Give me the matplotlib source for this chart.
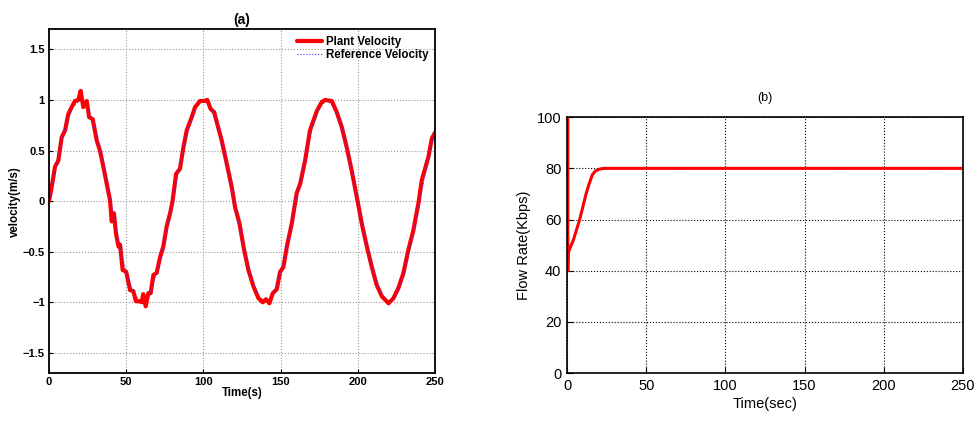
import matplotlib
matplotlib.use("Agg")
import matplotlib.pyplot as plt

plt.rcParams["font.family"] = ["Liberation Sans", "DejaVu Sans"]

# panel (a): velocity tracking
t_plant = [0, 1.5, 3.9, 6, 8.2, 10.4, 12.5, 14.7, 16.8, 19, 20.5, 22.2, 24.4, 26, 28.3,
           30.9, 33, 35.2, 37.8, 39.5, 40.6, 42, 43.4, 45, 46, 47.7, 50, 52.5, 54.6,
           56.3, 58.5, 60, 61, 62.6, 64.3, 65.8, 67.6, 69.7, 72, 74, 76.2, 78.4, 80,
           82.3, 84.8, 87, 89.2, 92.4, 94.6, 97.8, 100.4, 102.5, 104.7, 106.9, 109,
           111.8, 115.1, 118.3, 120.5, 123.3, 126.3, 129.1, 132.3, 135.6, 138.4, 140.5,
           142.7, 144.9, 147.5, 149.6, 151.8, 154, 157.2, 160.4, 162.6, 165.8, 169,
           173.4, 176.6, 178.8, 183.1, 186.3, 189.6, 192.8, 196, 199.3, 202.5, 205.8,
           209, 212.2, 215.5, 219.8, 223, 226.2, 229.5, 232.7, 235.9, 239.2, 241.4,
           243.5, 245.7, 247.9, 250]
v_plant = [0, 0.12, 0.34, 0.4, 0.63, 0.7, 0.86, 0.93, 0.99, 1.0, 1.09, 0.93, 0.99, 0.83, 0.81,
           0.6, 0.5, 0.34, 0.14, 0.01, -0.2, -0.12, -0.32, -0.45, -0.43, -0.68, -0.7, -0.88,
           -0.89, -0.99, -0.99, -1.0, -0.92, -1.04, -0.91, -0.91, -0.73, -0.71, -0.55, -0.45,
           -0.25, -0.12, 0.0,
           0.27, 0.32, 0.53, 0.7, 0.83, 0.93, 0.99, 0.99, 1.0, 0.91, 0.88, 0.76,
           0.6, 0.37, 0.14, -0.06, -0.22, -0.48, -0.68, -0.84, -0.96, -1.0, -0.97,
           -1.01, -0.91, -0.87, -0.7, -0.65, -0.45, -0.22, 0.08, 0.17, 0.4, 0.7,
           0.89, 0.98, 1.0, 0.99, 0.88, 0.73, 0.53, 0.3, 0.04, -0.22, -0.45,
           -0.65, -0.83, -0.94, -1.01, -0.96, -0.86, -0.71, -0.48, -0.29, -0.02, 0.21,
           0.32, 0.44, 0.62, 0.68]

t_ref = list(range(0, 251, 5))
v_ref = [0, 0.38, 0.71, 0.92, 1, 0.92, 0.71, 0.38, 0, -0.38, -0.71, -0.92, -1, -0.92, -0.71, -0.38,
         0, 0.38, 0.71, 0.92, 1, 0.92, 0.71, 0.38, 0, -0.38, -0.71, -0.92, -1, -0.92, -0.71, -0.38,
         0, 0.38, 0.71, 0.92, 1, 0.92, 0.71, 0.38, 0, -0.38, -0.71, -0.92, -1, -0.92, -0.71, -0.38,
         0, 0.38, 0.71]

# panel (b): flow rate
t_flow = [0.5, 0.5, 0.7, 2, 4, 6, 8, 10, 12, 14, 16, 18, 20, 22, 25, 28, 250]
flow = [100, 40, 47, 49, 52, 56, 60, 65, 70, 74, 77.5, 79, 79.6, 79.9, 80, 80, 80]

fig = plt.figure(figsize=(9.8, 4.23), dpi=100)

# ---- (a)
ax1 = fig.add_axes([0.05, 0.118, 0.394, 0.813])
ax1.plot(t_plant, v_plant, color="#ff0000", lw=3, label="Plant Velocity",
         solid_joinstyle="round", solid_capstyle="round")
ax1.plot(t_ref, v_ref, color="#3333ff", lw=0.8, ls=":", label="Reference Velocity")
ax1.set_xlim(0, 250)
ax1.set_ylim(-1.7, 1.7)
ax1.set_xticks([0, 50, 100, 150, 200, 250])
ax1.set_yticks([-1.5, -1, -0.5, 0, 0.5, 1, 1.5])
ax1.set_yticklabels(["\u22121.5", "\u22121", "\u22120.5", "0", "0.5", "1", "1.5"])
ax1.grid(True, color="#999999", ls=":", lw=0.8)
ax1.tick_params(direction="in", length=3, labelsize=8, pad=3)
for lab in ax1.get_xticklabels() + ax1.get_yticklabels():
    lab.set_fontweight("bold")
for s in ax1.spines.values():
    s.set_linewidth(1.3)
ax1.set_title("(a)", fontsize=10, fontweight="bold", pad=4)
ax1.set_xlabel("Time(s)", fontsize=8.3, fontweight="bold", labelpad=0)
ax1.set_ylabel("velocity(m/s)", fontsize=8.3, fontweight="bold")
ax1.yaxis.set_label_coords(-0.072, 0.5)
leg = ax1.legend(loc="upper right", frameon=False, fontsize=8.3, handlelength=2.2,
                 handletextpad=0.3, borderaxespad=0.2, labelspacing=0.1)
for txt in leg.get_texts():
    txt.set_fontweight("bold")

# ---- (b)
ax2 = fig.add_axes([0.5786, 0.118, 0.404, 0.605])
ax2.plot(t_flow, flow, color="#ff0000", lw=2.2)
ax2.set_xlim(0, 250)
ax2.set_ylim(0, 100)
ax2.set_xticks([0, 50, 100, 150, 200, 250])
ax2.set_yticks([0, 20, 40, 60, 80, 100])
ax2.grid(True, color="black", ls=":", lw=0.8)
ax2.tick_params(direction="in", length=4, labelsize=10.5, pad=4)
for s in ax2.spines.values():
    s.set_linewidth(1.2)
ax2.set_title("(b)", fontsize=9, pad=12)
ax2.set_xlabel("Time(sec)", fontsize=10.5, labelpad=3)
ax2.set_ylabel("Flow Rate(Kbps)", fontsize=10.5, labelpad=4)

fig.savefig("out.png", dpi=100)
